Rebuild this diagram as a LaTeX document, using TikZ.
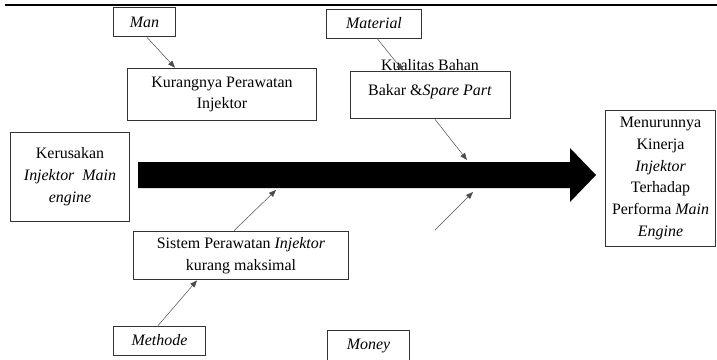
\documentclass[tikz,border=0pt]{standalone}
\usepackage{fontspec}
\setmainfont{Liberation Serif}
\usetikzlibrary{arrows.meta,calc}
\begin{document}
\begin{tikzpicture}[x=1bp,y=-1bp]
\tikzset{
  box/.style={draw=black!80, line width=0.9bp, align=center, inner sep=0pt,
    font=\fontsize{16}{22}\selectfont},
  plain/.style={align=center, inner sep=0pt, font=\fontsize{16}{25}\selectfont},
  lnk/.style={draw=black!70, line width=0.5bp, -{Triangle[length=7bp,width=5.5bp]}},
  rule/.style={line width=2.5bp},
  bigarrow/.style={fill=black},
}
\useasboundingbox (0,0) rectangle (717,359);
% top rule
\coordinate (r0) at (5,5);
\coordinate (r1) at (717,5);
\draw[rule] (r0) -- (r1);
% big arrow
\fill[bigarrow] (138,162) -- (570,162) -- (570,148) -- (596,175) -- (570,202) -- (570,188) -- (138,188) -- cycle;
\coordinate (a1) at (467,160);
\coordinate (a2) at (276,190);
\coordinate (f0) at (435,230);
\coordinate (f1) at (473,192);
% boxes
\node[box, minimum width=63, minimum height=30] (man) at (144.5,22) {\textit{Man}};
\node[box, minimum width=96, minimum height=29] (mat) at (374,23.5) {\textit{Material}};
\node[box, minimum width=190, minimum height=53] (kur) at (222,94.5) {Kurangnya Perawatan\\Injektor};
\node[box, minimum width=161, minimum height=48] (kb) at (430.5,95) {};
\node[plain] (kbt) at (430,79) {Kualitas Bahan\\Bakar \&\textit{Spare Part}};
\node[box, minimum width=120, minimum height=90] (ker) at (70,177) {Kerusakan\\\textit{Injektor\ \ Main}\\\textit{engine}};
\node[box, minimum width=111, minimum height=137] (men) at (660.5,178.5) {Menurunnya\\Kinerja\\\textit{Injektor}\\Terhadap\\Performa \textit{Main}\\\textit{Engine}};
\node[box, minimum width=216, minimum height=49] (sis) at (241,255.5) {Sistem Perawatan \textit{Injektor}\\kurang maksimal};
\node[box, minimum width=93, minimum height=29] (met) at (159.5,340.5) {\textit{Methode}};
\node[box, minimum width=83, minimum height=32] (mon) at (368.5,346) {\textit{Money}};
% connectors
\draw[lnk] ($(man.south)+(2.5,0)$) -- ($(kur.north)+(-47,0)$);
\draw[lnk] ($(mat.south)+(3,0)$) -- ($(kb.north)+(-27.5,0)$);
\draw[lnk] ($(kb.south)+(4.5,0)$) -- (a1);
\draw[lnk] ($(sis.north)+(-7,0)$) -- (a2);
\draw[lnk] ($(met.north)+(-1.5,0)$) -- ($(sis.south)+(-44,0)$);
\draw[lnk] (f0) -- (f1);
\end{tikzpicture}
\end{document}
